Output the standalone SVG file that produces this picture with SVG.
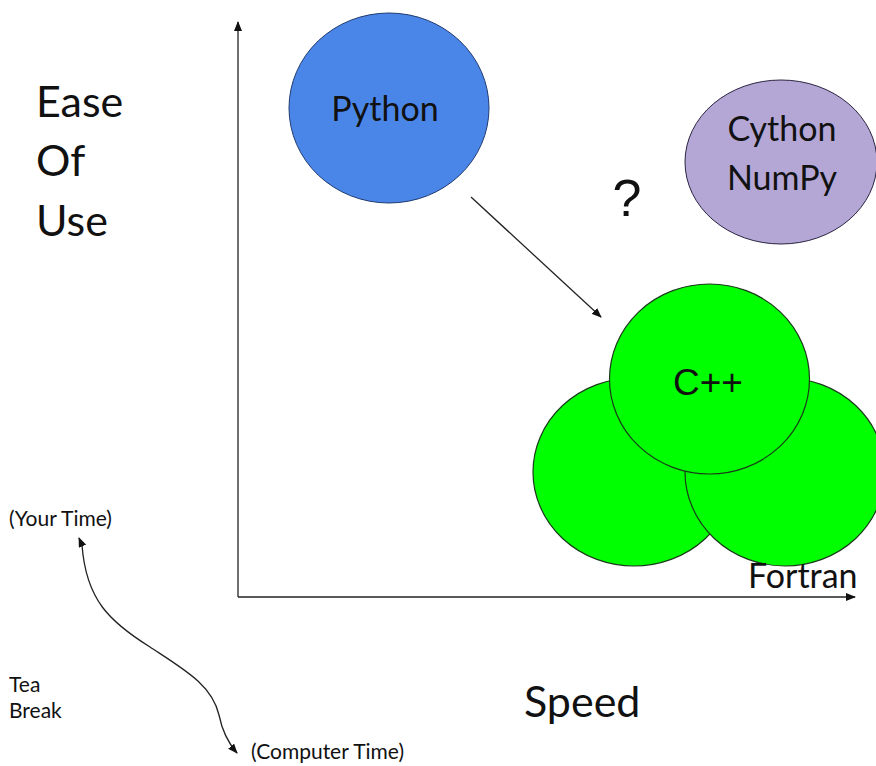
<svg xmlns="http://www.w3.org/2000/svg" width="876" height="766" viewBox="0 0 876 766">
<style>
.t{font-family:Lato,"Open Sans","Liberation Sans",sans-serif;fill:#111}
.a{font-family:"Liberation Sans",Arial,sans-serif;fill:#111}
.big{font-size:43px}
.mid{font-size:34px}
.sm{font-size:21px}
.ln{stroke:#222;stroke-width:1.3;fill:none}
.g{fill:#00ff00;stroke:#1a3a1a;stroke-width:1.2}
</style>
<defs>
<marker id="ah" markerWidth="10" markerHeight="8" refX="9" refY="4" orient="auto" markerUnits="userSpaceOnUse">
<path d="M0,0 L10,4 L0,8 Z" fill="#111"/>
</marker>
</defs>
<rect width="876" height="766" fill="#fff"/>
<g id="axes">
<line class="ln" x1="238" y1="597" x2="238" y2="22" marker-end="url(#ah)"/>
<line class="ln" x1="238" y1="597" x2="855" y2="597" marker-end="url(#ah)"/>
</g>
<g id="labels">
<text class="t big" x="36" y="117">Ease</text>
<text class="t big" x="36" y="176">Of</text>
<text class="t big" x="36" y="236">Use</text>
<text class="t big" x="524" y="717">Speed</text>
<text class="t sm" x="9" y="526">(Your Time)</text>
<text class="t sm" x="9" y="692">Tea</text>
<text class="t sm" x="9" y="718">Break</text>
<text class="t sm" x="251" y="759">(Computer Time)</text>
<text class="a" x="627" y="216" font-size="52" text-anchor="middle">?</text>
</g>
<g id="python">
<ellipse cx="389" cy="108" rx="100" ry="95" fill="#4a86e8" stroke="#1f3b70" stroke-width="1"/>
<text class="t mid" x="385" y="121" text-anchor="middle">Python</text>
</g>
<g id="cython">
<ellipse cx="781" cy="162" rx="96" ry="82" fill="#b4a7d6" stroke="#2a2440" stroke-width="1"/>
<text class="t mid" x="782" y="141" text-anchor="middle">Cython</text>
<text class="t mid" x="782" y="190" text-anchor="middle">NumPy</text>
</g>
<g id="fortran">
<ellipse class="g" cx="634" cy="472" rx="101" ry="94"/>
<ellipse class="g" cx="785" cy="472" rx="100" ry="94"/>
<text class="t mid" x="748" y="588">Fortran</text>
</g>
<g id="cpp">
<ellipse class="g" cx="709.5" cy="379" rx="100" ry="95"/>
<text class="a" x="708" y="395" font-size="37" text-anchor="middle">C++</text>
</g>
<g id="connectors">
<line class="ln" x1="471" y1="197" x2="601" y2="317" marker-end="url(#ah)"/>
<path class="ln" d="M82 545 C86 600 110 622 150 647 C185 670 212 685 219 715 C223 735 230 745 237 753" marker-end="url(#ah)"/>
<path class="ln" d="M82 545 L79 538" marker-end="url(#ah)"/>
</g>
</svg>
